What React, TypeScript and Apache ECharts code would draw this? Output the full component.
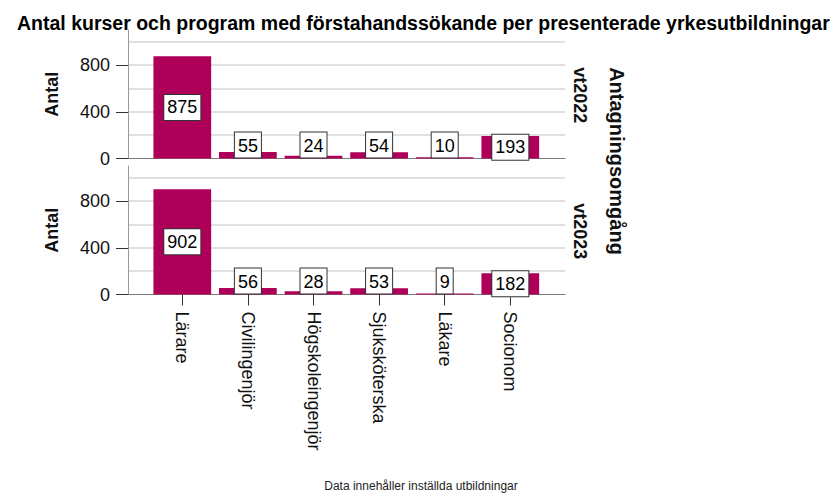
import React, { useEffect, useRef } from "react";
import * as echarts from "echarts";

const title = "Antal kurser och program med förstahandssökande per presenterade yrkesutbildningar";
const footnote = "Data innehåller inställda utbildningar";
const categories = ["Lärare", "Civilingenjör", "Högskoleingenjör", "Sjuksköterska", "Läkare", "Socionom"];
const vt2022 = [875, 55, 24, 54, 10, 193];
const vt2023 = [902, 56, 28, 53, 9, 182];
const panelNames = ["vt2022", "vt2023"];
const panelValues = [vt2022, vt2023];
const yTickValues = [0, 400, 800];
const yMax = 1100;
const yGridStep = 200;
const yAxisName = "Antal";
const facetName = "Antagningsomgång";

const BAR = "#ae0059";
const FONT = "'Liberation Sans', Arial, sans-serif";

export default function App() {
  const ref = useRef<HTMLDivElement>(null);
  useEffect(() => {
    if (!ref.current) return;
    const chart = echarts.init(ref.current, undefined, { renderer: "svg" });

    const outerLeft = 128;
    const outerWidth = 437;
    const innerLeft = 149.5;
    const innerWidth = 393.6;
    const panelTops = [30, 166];
    const panelHeight = 128.5;

    const grid: any[] = [];
    const xAxis: any[] = [];
    const yAxis: any[] = [];
    const series: any[] = [];
    const graphic: any[] = [];

    panelNames.forEach((name, p) => {
      const isLast = p === panelNames.length - 1;
      const gOuter = grid.length;
      grid.push({ left: outerLeft, width: outerWidth, top: panelTops[p], height: panelHeight });
      const gInner = grid.length;
      grid.push({ left: innerLeft, width: innerWidth, top: panelTops[p], height: panelHeight });

      xAxis.push({
        type: "category", gridIndex: gOuter, data: categories,
        axisLine: { show: true, lineStyle: { color: "#7a7a7a", width: 1 } },
        axisTick: { show: false }, axisLabel: { show: false }, splitLine: { show: false },
      });
      const xInner = xAxis.length;
      xAxis.push({
        type: "category", gridIndex: gInner, data: categories,
        axisLine: { show: false },
        axisTick: { show: isLast, alignWithLabel: true, length: 11, lineStyle: { color: "#333" } },
        axisLabel: {
          show: isLast, rotate: -90, margin: 17, fontSize: 18, color: "#111", fontFamily: FONT,
        },
        splitLine: { show: false },
      });

      yAxis.push({
        type: "value", gridIndex: gOuter, min: 0, max: yMax,
        name: yAxisName, nameLocation: "middle", nameGap: 67, nameRotate: 90,
        nameTextStyle: { fontSize: 18, fontWeight: "bold", color: "#111", fontFamily: FONT },
        axisLine: { show: true, lineStyle: { color: "#999" } },
        axisTick: { show: true, customValues: yTickValues, length: 12, lineStyle: { color: "#333" } },
        axisLabel: { customValues: yTickValues, margin: 18, fontSize: 18, color: "#111", fontFamily: FONT },
        splitLine: { show: false },
      });
      yAxis.push({
        type: "value", gridIndex: gOuter, min: 0, max: yMax, interval: yGridStep,
        axisLine: { show: false }, axisTick: { show: false }, axisLabel: { show: false },
        splitLine: { show: true, showMinLine: false, showMaxLine: false, lineStyle: { color: "#d6d6d6", width: 1.5 } },
      });
      const yInner = yAxis.length;
      yAxis.push({ type: "value", gridIndex: gInner, min: 0, max: yMax, show: false });

      series.push({
        type: "bar", name, xAxisIndex: xInner, yAxisIndex: yInner, barWidth: "88%",
        itemStyle: { color: BAR },
        label: {
          show: true, formatter: "{c}", fontSize: 18, color: "#000", fontFamily: FONT,
          backgroundColor: "#fff", borderColor: "#333", borderWidth: 1, padding: [4, 3, 3, 3],
        },
        data: panelValues[p].map((v) => ({
          value: v,
          label: { position: v > 150 ? "inside" : "insideBottom", distance: 1 },
        })),
      });

      graphic.push({
        type: "text", x: 580, y: panelTops[p] + panelHeight / 2 + 1, rotation: -Math.PI / 2,
        style: { text: name, font: `bold 18px ${FONT}`, fill: "#111", align: "center", verticalAlign: "middle" },
      });
    });

    graphic.push({
      type: "text", x: 617, y: 161, rotation: -Math.PI / 2,
      style: { text: facetName, font: `bold 20px ${FONT}`, fill: "#111", align: "center", verticalAlign: "middle" },
    });
    graphic.push({
      type: "text", x: 421, y: 486,
      style: { text: footnote, font: `12px ${FONT}`, fill: "#222", align: "center", verticalAlign: "middle" },
    });

    chart.setOption({
      animation: false,
      backgroundColor: "#fff",
      title: {
        text: title, left: 12, top: 8,
        textStyle: { fontSize: 19.5, fontWeight: "bold", color: "#000", fontFamily: FONT },
      },
      grid, xAxis, yAxis, series, graphic,
    });
    return () => chart.dispose();
  }, []);
  return <div ref={ref} style={{ position: "fixed", left: 0, top: 0, width: 831, height: 494 }} />;
}
